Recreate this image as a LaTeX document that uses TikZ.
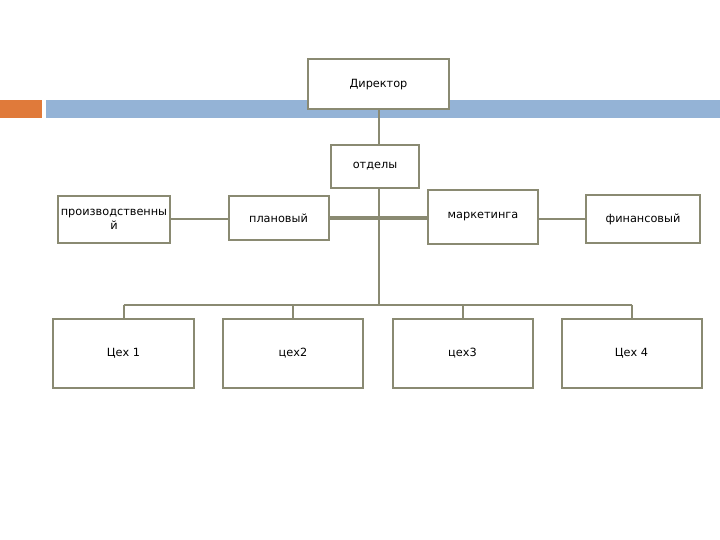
\documentclass[tikz,border=0pt]{standalone}
\usepackage{fontspec}
\setmainfont{DejaVu Sans}
\definecolor{boxline}{HTML}{8A8A72}
\definecolor{barblue}{HTML}{94B3D6}
\definecolor{barorange}{HTML}{E07A3A}
\begin{document}
\begin{tikzpicture}[x=1pt,y=-1pt,
  orgbox/.style={draw=boxline,line width=2pt,fill=white,inner sep=0pt,align=center,font=\fontsize{11.3}{13.5}\selectfont},
  link/.style={draw=boxline,line width=2pt},
  thicklink/.style={draw=boxline,line width=3.5pt}]
\useasboundingbox (0,0) rectangle (720,540);
\fill[barorange] (0,100) rectangle (42,118);
\fill[barblue] (46,100) rectangle (720,118);
% nodes
\node[orgbox,minimum width=141pt,minimum height=50pt] (dir) at (378.5,84.5) {Директор};
\node[orgbox,minimum width=88pt,minimum height=43pt] (otd) at (375,166.5) {отделы};
\node[orgbox,minimum width=112pt,minimum height=47pt] (proiz) at (114,219.5) {производственны\\й};
\node[orgbox,minimum width=100pt,minimum height=44pt] (plan) at (278.5,218) {плановый};
\node[orgbox,minimum width=110pt,minimum height=54pt] (mark) at (483,217) {маркетинга};
\node[orgbox,minimum width=114pt,minimum height=47pt] (fin) at (643,219) {финансовый};
\node[orgbox,minimum width=141pt,minimum height=69pt] (c1) at (123.5,353.5) {Цех 1};
\node[orgbox,minimum width=140pt,minimum height=69pt] (c2) at (293,353.5) {цех2};
\node[orgbox,minimum width=140pt,minimum height=69pt] (c3) at (462.5,353.5) {цех3};
\node[orgbox,minimum width=140pt,minimum height=69pt] (c4) at (631.5,353.5) {Цех 4};
\coordinate (top) at (379,109);
\coordinate (mid) at (379,188);
\coordinate (bus) at (379,304.5);
% connectors
\draw[link] (top) -- (top |- otd.north);
\draw[link] (mid) -- (bus);
\draw[link] (proiz.east) -- (proiz.east -| plan.west);
\draw[thicklink] (plan.east) -- (plan.east -| mark.west);
\draw[link] (mark.east |- fin.west) -- (fin.west);
\draw[link] (c1.north |- bus) -- (c4.north |- bus);
\draw[link] (c1.north |- bus) -- (c1.north);
\draw[link] (c2.north |- bus) -- (c2.north);
\draw[link] (c3.north |- bus) -- (c3.north);
\draw[link] (c4.north |- bus) -- (c4.north);
\end{tikzpicture}
\end{document}
